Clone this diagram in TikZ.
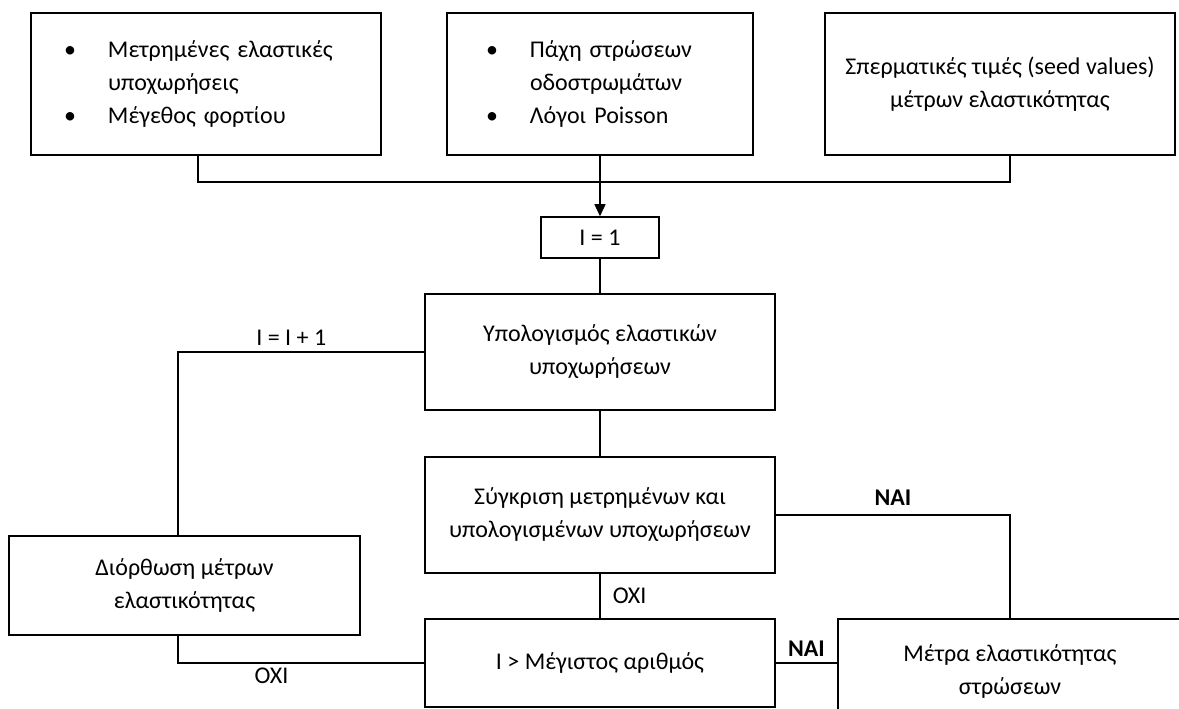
\documentclass[tikz,border=0pt]{standalone}
\usepackage{fontspec}
\setmainfont{Carlito}
\usetikzlibrary{arrows.meta}
\newcommand{\bul}{\makebox[44pt][l]{\textbullet}}

\begin{document}
\begin{tikzpicture}[x=1pt,y=-1pt,font=\fontsize{24}{33}\selectfont]
	\tikzstyle{box}=[draw,rectangle,line width=1.6pt,inner sep=0pt,align=center]
	\tikzstyle{yes}=[line width=2.6pt]
	\clip (0,0) rectangle (1179,709);
	% input boxes
	\node[box,minimum width=350,minimum height=142,text width=284,inner xsep=33,align=left](b1) at (206,84) {\bul Μετρημένες ελαστικές\\ \hspace*{44pt}υποχωρήσεις\\ \bul Μέγεθος φορτίου};
	\node[box,minimum width=306,minimum height=142,text width=228,inner xsep=39,align=left](b2) at (600,84) {\bul Πάχη στρώσεων\\ \hspace*{44pt}οδοστρωμάτων\\ \bul Λόγοι Poisson};
	\node[box,minimum width=350,minimum height=142](b3) at (1000,84) {Σπερματικές τιμές (seed values)\\ μέτρων ελαστικότητας};
	% loop
	\node[box,minimum width=118,minimum height=41](i1) at (600,237.5) {I = 1};
	\node[box,minimum width=350,minimum height=116](calc) at (600,352) {Υπολογισμός ελαστικών\\ υποχωρήσεων};
	\node[box,minimum width=350,minimum height=116](comp) at (600,515) {Σύγκριση μετρημένων και\\ υπολογισμένων υποχωρήσεων};
	\node[box,minimum width=350,minimum height=88](max) at (600,663) {I > Μέγιστος αριθμός};
	\node[box,minimum width=351,minimum height=99](corr) at (184.5,585.5) {Διόρθωση μέτρων\\ ελαστικότητας};
	\node[box,minimum width=344,minimum height=104](res) at (1010,671) {Μέτρα ελαστικότητας\\ στρώσεων};
	\coordinate (top) at (600,182);
	\draw[line width=1.6pt] ([xshift=-8pt]b1.south) |- (top) -| ([xshift=10pt]b3.south);
	\draw[line width=1.6pt] (b2.south) -- (top);
	\draw[line width=1.6pt,-{Triangle[length=12pt,width=11pt]}] (top) -- (i1.north);
	\draw[line width=1.6pt] (i1) -- (calc);
	\draw[line width=1.6pt] (calc) -- (comp);
	\draw[line width=1.6pt] (comp) -- node[right,inner xsep=12pt] {ΟΧΙ} (max);
	\draw[line width=1.6pt] (calc.west) -| node[above,pos=0.27,inner sep=6pt] {I = I + 1} ([xshift=-6.5pt]corr.north);
	\draw[line width=1.6pt] ([xshift=-6.5pt]corr.south) |- node[below,pos=0.69,inner sep=4pt] {ΟΧΙ} (max.west);
	\draw[yes] (comp.east) -| node[above,pos=0.25,inner sep=8pt,font=\fontsize{24}{33}\selectfont\bfseries] {ΝΑΙ} (res.north);
	\draw[yes] (max.east) -- node[above,inner sep=5pt,font=\fontsize{24}{33}\selectfont\bfseries] {ΝΑΙ} (max.east -| res.west);
\end{tikzpicture}
\end{document}
